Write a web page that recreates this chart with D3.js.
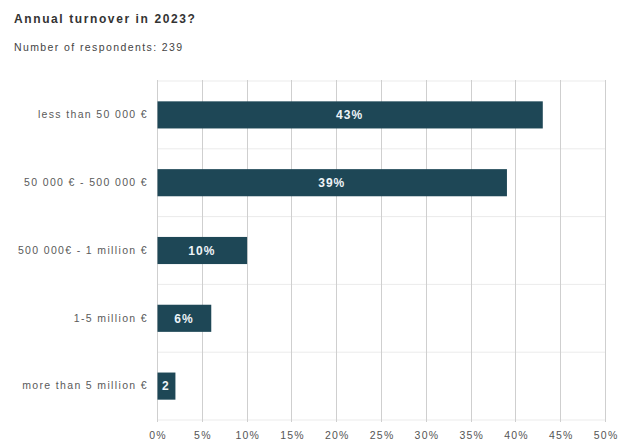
<!DOCTYPE html>
<html>
<head>
<meta charset="utf-8">
<script src="https://cdn.jsdelivr.net/npm/d3@7"></script>
<style>
  body { margin: 0; background: #fff; }
  svg { display: block; font-family: "Liberation Sans", Arial, sans-serif; }
</style>
</head>
<body>
<svg id="chart" width="622" height="445"></svg>
<script>
const title = "Annual turnover in 2023?";
const subtitle = "Number of respondents: 239";
const categories = [
  "less than  50 000 €",
  "50 000 € - 500 000 €",
  "500 000€ - 1 million €",
  "1-5 million €",
  "more than 5 million €"
];
const shares = [43, 39, 10, 6, 2];
const ticks = [0, 5, 10, 15, 20, 25, 30, 35, 40, 45, 50];

const svg = d3.select("#chart");
const margin = { top: 81, right: 17, bottom: 25, left: 157 };
const W = 622, H = 445;
const innerW = W - margin.left - margin.right;
const innerH = H - margin.top - margin.bottom;

svg.append("text").attr("x", 14).attr("y", 23)
  .attr("font-size", 12).attr("font-weight", "bold").attr("fill", "#333")
  .attr("letter-spacing", 1.6)
  .text(title);
svg.append("text").attr("x", 14).attr("y", 51)
  .attr("font-size", 10.5).attr("fill", "#444")
  .attr("letter-spacing", 1.4)
  .text(subtitle);

const g = svg.append("g").attr("transform", `translate(${margin.left},${margin.top})`);

const x = d3.scaleLinear().domain([0, 50]).range([0, innerW]);
const y = d3.scaleBand().domain(categories).range([0, innerH]).paddingInner(0.6).paddingOuter(0.3);
const band = d3.scaleBand().domain(categories).range([0, innerH]);

// horizontal separators between categories
g.selectAll(".hsep").data(categories.concat(["__end"]))
  .join("line")
  .attr("x1", 0).attr("x2", innerW)
  .attr("y1", (d, i) => i * band.step()).attr("y2", (d, i) => i * band.step())
  .attr("stroke", "#ebebeb").attr("stroke-width", 1);

// vertical grid lines
g.selectAll(".vgrid").data(ticks)
  .join("line")
  .attr("x1", d => Math.round(x(d)) + 0.5).attr("x2", d => Math.round(x(d)) + 0.5)
  .attr("y1", -1).attr("y2", innerH + 2)
  .attr("stroke", "#cfcfcf").attr("stroke-width", 1);

// x axis labels
const xAxis = d3.axisBottom(x).tickValues(ticks).tickFormat(d => d + "%").tickSize(0).tickPadding(12);
const xa = g.append("g").attr("transform", `translate(0,${innerH})`).call(xAxis);
xa.select(".domain").remove();
xa.selectAll("text").attr("font-size", 10.5).attr("fill", "#555")
  .attr("letter-spacing", 1.2).attr("dx", "0.6")
  .attr("font-family", "Liberation Sans, Arial, sans-serif");

// y axis labels
const yAxis = d3.axisLeft(y).tickSize(0).tickPadding(9);
const ya = g.append("g").call(yAxis);
ya.select(".domain").remove();
ya.selectAll("text").attr("font-size", 10.5).attr("fill", "#5a5a5a")
  .attr("letter-spacing", 1.35)
  .attr("font-family", "Liberation Sans, Arial, sans-serif");

// bars
const data = categories.map((c, i) => ({ c, v: shares[i] }));
g.selectAll(".bar").data(data)
  .join("rect")
  .attr("x", 0.5).attr("y", d => y(d.c))
  .attr("width", d => x(d.v)).attr("height", y.bandwidth())
  .attr("fill", "#1e4756");

// value labels, shortened when the bar is too narrow
const labels = g.selectAll(".val").data(data)
  .join("text")
  .attr("x", d => x(d.v) / 2)
  .attr("y", d => y(d.c) + y.bandwidth() / 2)
  .attr("dy", "0.36em")
  .attr("text-anchor", "middle")
  .attr("font-size", 12).attr("font-weight", "bold").attr("fill", "#eef4f8")
  .attr("letter-spacing", 1)
  .text(d => d.v + "%");
labels.each(function(d) {
  const t = d3.select(this);
  let s = d.v + "%";
  while (s.length > 1 && this.getComputedTextLength() > x(d.v) - 4) {
    s = s.slice(0, -1);
    t.text(s);
  }
});
</script>
</body>
</html>
